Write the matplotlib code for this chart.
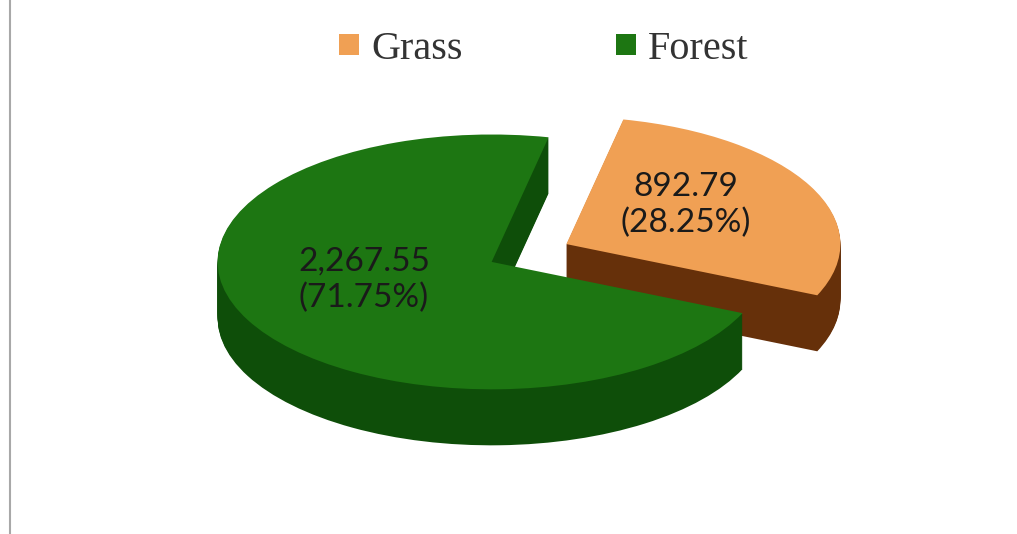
import matplotlib.pyplot as plt
from matplotlib.patches import Patch

# data
categories = ["Grass", "Forest"]
areas = [892.79, 2267.55]
value_labels = ["892.79", "2,267.55"]
pct_labels = ["(28.25%)", "(71.75%)"]

top_colors = ["#F0A054", "#1D7612"]
side_colors = ["#66300A", "#0E4E09"]

W, H = 1017, 534
RX = 274           # horizontal radius, px
SQUASH = 0.465     # ry / rx, gives the tilted look
DEPTH = 56         # pie thickness, px
CX, CY = 529, 253  # pie centre, px
EXPLODE = 42
START = -23.7


def to_data_y(ypix):
    return (H - ypix) / SQUASH


fig = plt.figure(figsize=(W / 100, H / 100), dpi=100)
ax = fig.add_axes([0, 0, 1, 1])

# side walls: stack of shifted pies, deepest first
for d in range(DEPTH, 0, -1):
    wedges, _ = ax.pie(areas, radius=RX, center=(CX, to_data_y(CY + d)),
                       startangle=START, explode=[EXPLODE, EXPLODE],
                       colors=side_colors, wedgeprops={"linewidth": 0})
    wedges[0].set_zorder(1)
    wedges[1].set_zorder(3)

# top faces
wedges, _ = ax.pie(areas, radius=RX, center=(CX, to_data_y(CY)),
                   startangle=START, explode=[EXPLODE, EXPLODE],
                   colors=top_colors, wedgeprops={"linewidth": 0})
wedges[0].set_zorder(2)
wedges[1].set_zorder(4)

ax.set_aspect("auto")
ax.set_xlim(0, W)
ax.set_ylim(0, H / SQUASH)
ax.axis("off")

# left border of the plot area
ax.axvline(10, color="#A8A8A8", lw=1.5)

# data labels
label_pos = [(686, 205), (364, 280)]
for (x, y), v, p in zip(label_pos, value_labels, pct_labels):
    ax.text(x, to_data_y(y), v + "\n" + p, ha="center", va="center",
            fontsize=24, family="Lato", color="#1A1A1A", linespacing=1.25,
            zorder=10)

handles = [Patch(facecolor=c) for c in top_colors]
fig.legend(handles, categories, loc="upper center", bbox_to_anchor=(0.535, 1.01),
           ncol=2, frameon=False, prop={"family": "Liberation Serif", "size": 29},
           handlelength=0.5, handleheight=0.4, columnspacing=3.8,
           handletextpad=0.3, labelcolor="#333333")

fig.savefig("out.png", dpi=100)
